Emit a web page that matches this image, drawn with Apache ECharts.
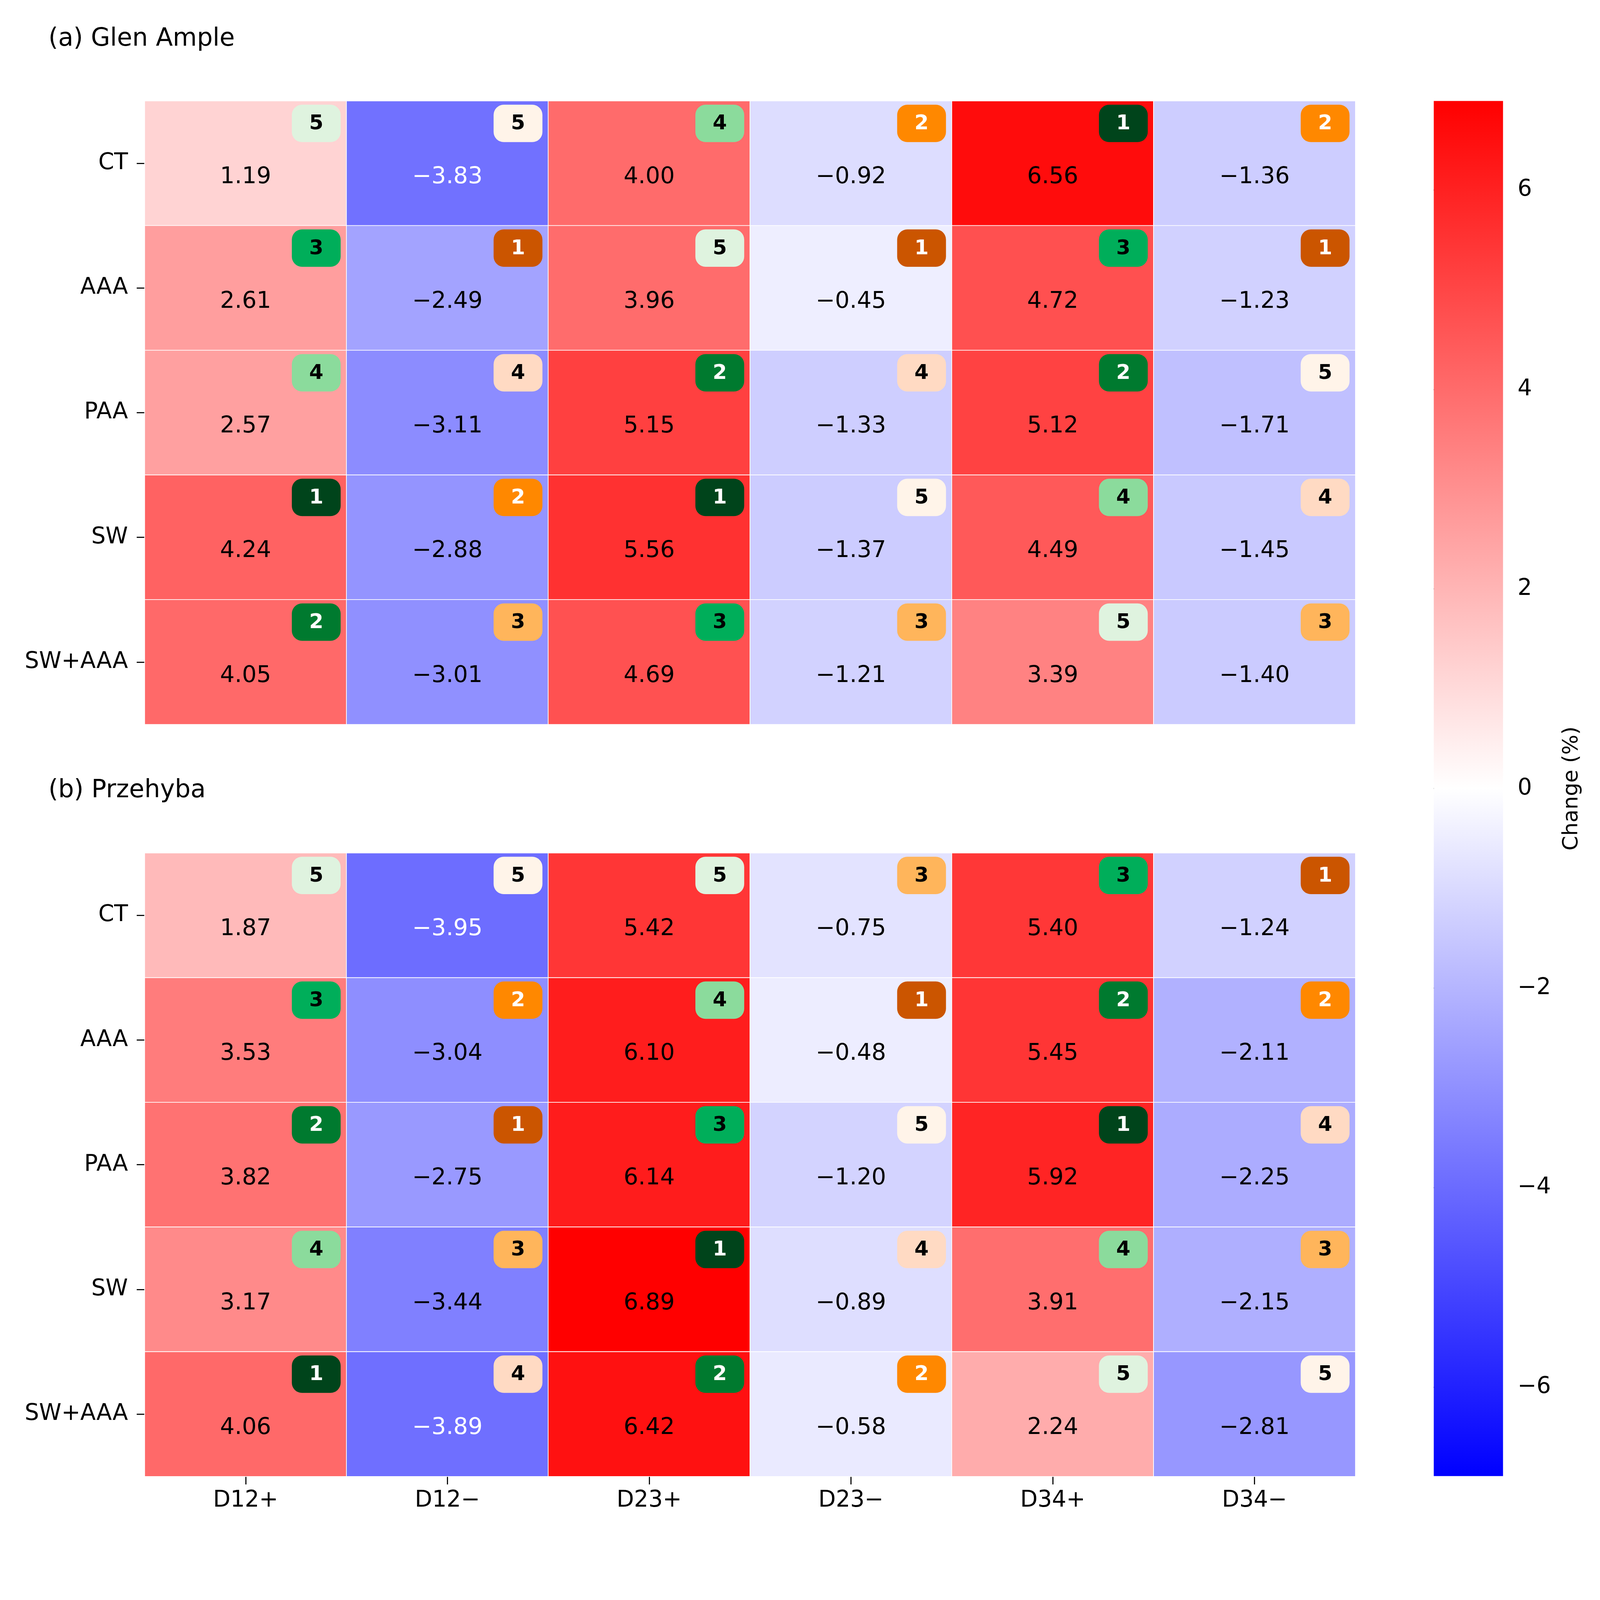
<!DOCTYPE html>
<html>
<head>
<meta charset="utf-8">
<script src="https://cdn.jsdelivr.net/npm/echarts@6/dist/echarts.min.js"></script>
<style>
  html, body { margin: 0; padding: 0; background: #fff; overflow: hidden; }
  #chart { width: 100vw; height: 100vh; }
</style>
</head>
<body>
<div id="chart"></div>
<script>
// categories
var cols = ['D12+', 'D12\u2212', 'D23+', 'D23\u2212', 'D34+', 'D34\u2212'];
var rows = ['CT', 'AAA', 'PAA', 'SW', 'SW+AAA'];

// (a) Glen Ample, change (%) per row
var glenValues = [
  [1.19, -3.83, 4.00, -0.92, 6.56, -1.36],
  [2.61, -2.49, 3.96, -0.45, 4.72, -1.23],
  [2.57, -3.11, 5.15, -1.33, 5.12, -1.71],
  [4.24, -2.88, 5.56, -1.37, 4.49, -1.45],
  [4.05, -3.01, 4.69, -1.21, 3.39, -1.40]
];
var glenRanks = [
  [5, 5, 4, 2, 1, 2],
  [3, 1, 5, 1, 3, 1],
  [4, 4, 2, 4, 2, 5],
  [1, 2, 1, 5, 4, 4],
  [2, 3, 3, 3, 5, 3]
];

// (b) Przehyba
var przValues = [
  [1.87, -3.95, 5.42, -0.75, 5.40, -1.24],
  [3.53, -3.04, 6.10, -0.48, 5.45, -2.11],
  [3.82, -2.75, 6.14, -1.20, 5.92, -2.25],
  [3.17, -3.44, 6.89, -0.89, 3.91, -2.15],
  [4.06, -3.89, 6.42, -0.58, 2.24, -2.81]
];
var przRanks = [
  [5, 5, 5, 3, 3, 1],
  [3, 2, 4, 1, 2, 2],
  [2, 1, 3, 5, 1, 4],
  [4, 3, 1, 4, 4, 3],
  [1, 4, 2, 2, 5, 5]
];

// colour scale limits and colorbar ticks
var vmin = -6.89, vmax = 6.89;
var cbTicks = [-6, -4, -2, 0, 2, 4, 6];

// rank badge colours (rank 1..5)
var greens = ['#00441b', '#007a2f', '#00ae5a', '#8bdb9c', '#dff3df'];
var oranges = ['#cb5500', '#ff8800', '#ffb55b', '#ffdac3', '#fff4e9'];

var FONT = 'DejaVu Sans';

// layout was measured on a 4389 x 4212 canvas; scale to whatever the window is
var el = document.getElementById('chart');
var k = Math.min(el.clientWidth / 4389, el.clientHeight / 4212);
function px(v) { return v * k; }

function fmt(v) {
  var s = Math.abs(v).toFixed(2);
  return v < 0 ? '\u2212' + s : s;
}

function heatData(vals) {
  var out = [];
  vals.forEach(function (r, yi) {
    r.forEach(function (v, xi) {
      out.push({ value: [xi, yi, v], label: { color: v < -3.5 ? '#ffffff' : '#000000' } });
    });
  });
  return out;
}

function rankData(ranks) {
  var out = [];
  ranks.forEach(function (r, yi) {
    r.forEach(function (n, xi) { out.push([xi, yi, n]); });
  });
  return out;
}

function renderBadge(params, api) {
  var xi = api.value(0), yi = api.value(1), n = api.value(2);
  var c = api.coord([xi, yi]);
  var s = api.size([1, 1]);
  var w = s[0] * 0.242, h = s[1] * 0.3;
  var x = c[0] + s[0] / 2 - s[0] * 0.029 - w;
  var y = c[1] - s[1] / 2 + s[1] * 0.03;
  var pal = xi % 2 === 0 ? greens : oranges;
  return {
    type: 'group',
    children: [
      { type: 'rect', shape: { x: x, y: y, width: w, height: h, r: px(28) }, style: { fill: pal[n - 1] } },
      { type: 'text', style: {
          x: x + w / 2, y: y + h / 2 + px(2), text: String(n), align: 'center', verticalAlign: 'middle',
          fill: n <= 2 ? '#ffffff' : '#000000', font: 'bold ' + px(56) + 'px "DejaVu Sans"'
      } }
    ]
  };
}

function yAxisFor(gi) {
  return {
    type: 'category', gridIndex: gi, data: rows, inverse: true,
    axisLine: { show: false },
    axisTick: { show: true, alignWithLabel: true, length: px(22), lineStyle: { color: '#000', width: px(3) } },
    axisLabel: { fontFamily: FONT, fontSize: px(62), color: '#000', margin: px(46) },
    splitLine: { show: false }
  };
}

var chart = echarts.init(el, null, { renderer: 'canvas' });

var labelStyle = { show: true, fontFamily: FONT, fontSize: px(63), offset: [0, px(38)],
  formatter: function (p) { return fmt(p.value[2]); } };

var titleStyle = { fontFamily: FONT, fontSize: px(68), fontWeight: 'normal', color: '#000' };

var option = {
  backgroundColor: '#ffffff',
  animation: false,
  title: [
    { text: '(a) Glen Ample', left: px(133), top: px(74), padding: 0, textStyle: titleStyle },
    { text: '(b) Przehyba', left: px(133), top: px(2136), padding: 0, textStyle: titleStyle }
  ],
  grid: [
    { left: px(397), top: px(277), width: px(3321), height: px(1710) },
    { left: px(397), top: px(2340), width: px(3321), height: px(1710) },
    { left: px(3933), top: px(277), width: px(190), height: px(3772) }
  ],
  visualMap: {
    show: false, type: 'continuous', min: vmin, max: vmax, seriesIndex: [0, 1], dimension: 2,
    inRange: { color: ['#0000ff', '#ffffff', '#ff0000'] }
  },
  xAxis: [
    { type: 'category', gridIndex: 0, data: cols, show: false },
    { type: 'category', gridIndex: 1, data: cols,
      axisLine: { show: false },
      axisTick: { show: true, alignWithLabel: true, length: px(22), lineStyle: { color: '#000', width: px(3) } },
      axisLabel: { fontFamily: FONT, fontSize: px(62), color: '#000', margin: px(36) },
      splitLine: { show: false } },
    { type: 'value', gridIndex: 2, min: 0, max: 1, show: false }
  ],
  yAxis: [
    yAxisFor(0),
    yAxisFor(1),
    { type: 'value', gridIndex: 2, min: vmin, max: vmax, position: 'right',
      axisLine: { show: false },
      splitLine: { show: false },
      axisTick: { show: true, length: px(20), customValues: cbTicks, lineStyle: { color: '#000', width: px(3) } },
      axisLabel: { fontFamily: FONT, fontSize: px(62), color: '#000', margin: px(40), customValues: cbTicks,
        formatter: function (v) { return v < 0 ? '\u2212' + Math.abs(v) : String(v); } },
      name: 'Change (%)', nameLocation: 'middle', nameRotate: 90, nameGap: px(160),
      nameTextStyle: { fontFamily: FONT, fontSize: px(58), color: '#000' } }
  ],
  series: [
    { type: 'heatmap', xAxisIndex: 0, yAxisIndex: 0, data: heatData(glenValues),
      itemStyle: { borderColor: '#ffffff', borderWidth: px(2) }, label: labelStyle },
    { type: 'heatmap', xAxisIndex: 1, yAxisIndex: 1, data: heatData(przValues),
      itemStyle: { borderColor: '#ffffff', borderWidth: px(2) }, label: labelStyle },
    { type: 'custom', xAxisIndex: 0, yAxisIndex: 0, data: rankData(glenRanks), renderItem: renderBadge, z: 5 },
    { type: 'custom', xAxisIndex: 1, yAxisIndex: 1, data: rankData(przRanks), renderItem: renderBadge, z: 5 },
    { type: 'custom', xAxisIndex: 2, yAxisIndex: 2, data: [[0, 0]],
      renderItem: function (params, api) {
        var p0 = api.coord([0, vmax]);
        var p1 = api.coord([1, vmin]);
        return { type: 'rect', shape: { x: p0[0], y: p0[1], width: p1[0] - p0[0], height: p1[1] - p0[1] },
          style: { fill: new echarts.graphic.LinearGradient(0, 0, 0, 1, [
            { offset: 0, color: '#ff0000' }, { offset: 0.5, color: '#ffffff' }, { offset: 1, color: '#0000ff' }
          ]) } };
      } }
  ]
};

chart.setOption(option);
</script>
</body>
</html>
